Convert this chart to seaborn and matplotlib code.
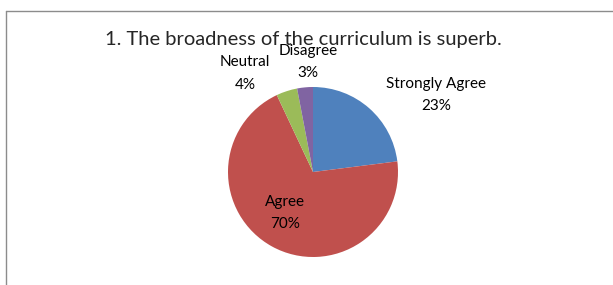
import matplotlib
matplotlib.use("Agg")
import matplotlib.pyplot as plt
import seaborn as sns

# survey answers, in the order Excel draws them (clockwise from 12 o'clock)
categories = ["Strongly Agree", "Agree", "Neutral", "Disagree"]
percents = [23, 70, 4, 3]
colors = ["#4F81BD", "#C0504D", "#9BBB59", "#8064A2"]

# label anchors, in pie-radius units
label_pos = [(1.447, 0.906), (-0.33, -0.48), (-0.80, 1.16), (-0.06, 1.29)]

sns.set_style("white")
plt.rcParams["font.family"] = ["Lato", "DejaVu Sans"]

W, H, dpi = 613, 285, 100
fig = plt.figure(figsize=(W / dpi, H / dpi), dpi=dpi)
ax = fig.add_axes([0, 0, 1, 1])

cx, cy, r = 313, 172, 85
ax.pie(percents, colors=colors, startangle=90, counterclock=False,
       radius=1, center=(0, 0), wedgeprops=dict(linewidth=0))

for cat, pct, (x, y) in zip(categories, percents, label_pos):
    ax.text(x, y, f"{cat}\n{pct}%", ha="center", va="center",
            fontsize=11, linespacing=1.75, color="black")

ax.set_xlim(-cx / r, (W - cx) / r)
ax.set_ylim(-(H - cy) / r, cy / r)
ax.set_aspect("auto")
ax.axis("off")

fig.text(303 / W, 1 - 40 / H, "1. The broadness of the curriculum is superb.",
         ha="center", va="center", fontsize=14.5)

# chart frame (clipped by the image edges)
fig.add_artist(plt.Line2D([6 / W, 1], [1 - 11 / H, 1 - 11 / H],
                          color="#8c8c8c", lw=1))
fig.add_artist(plt.Line2D([6 / W, 6 / W], [0, 1 - 11 / H],
                          color="#8c8c8c", lw=1))

fig.savefig("out.png", dpi=dpi)
